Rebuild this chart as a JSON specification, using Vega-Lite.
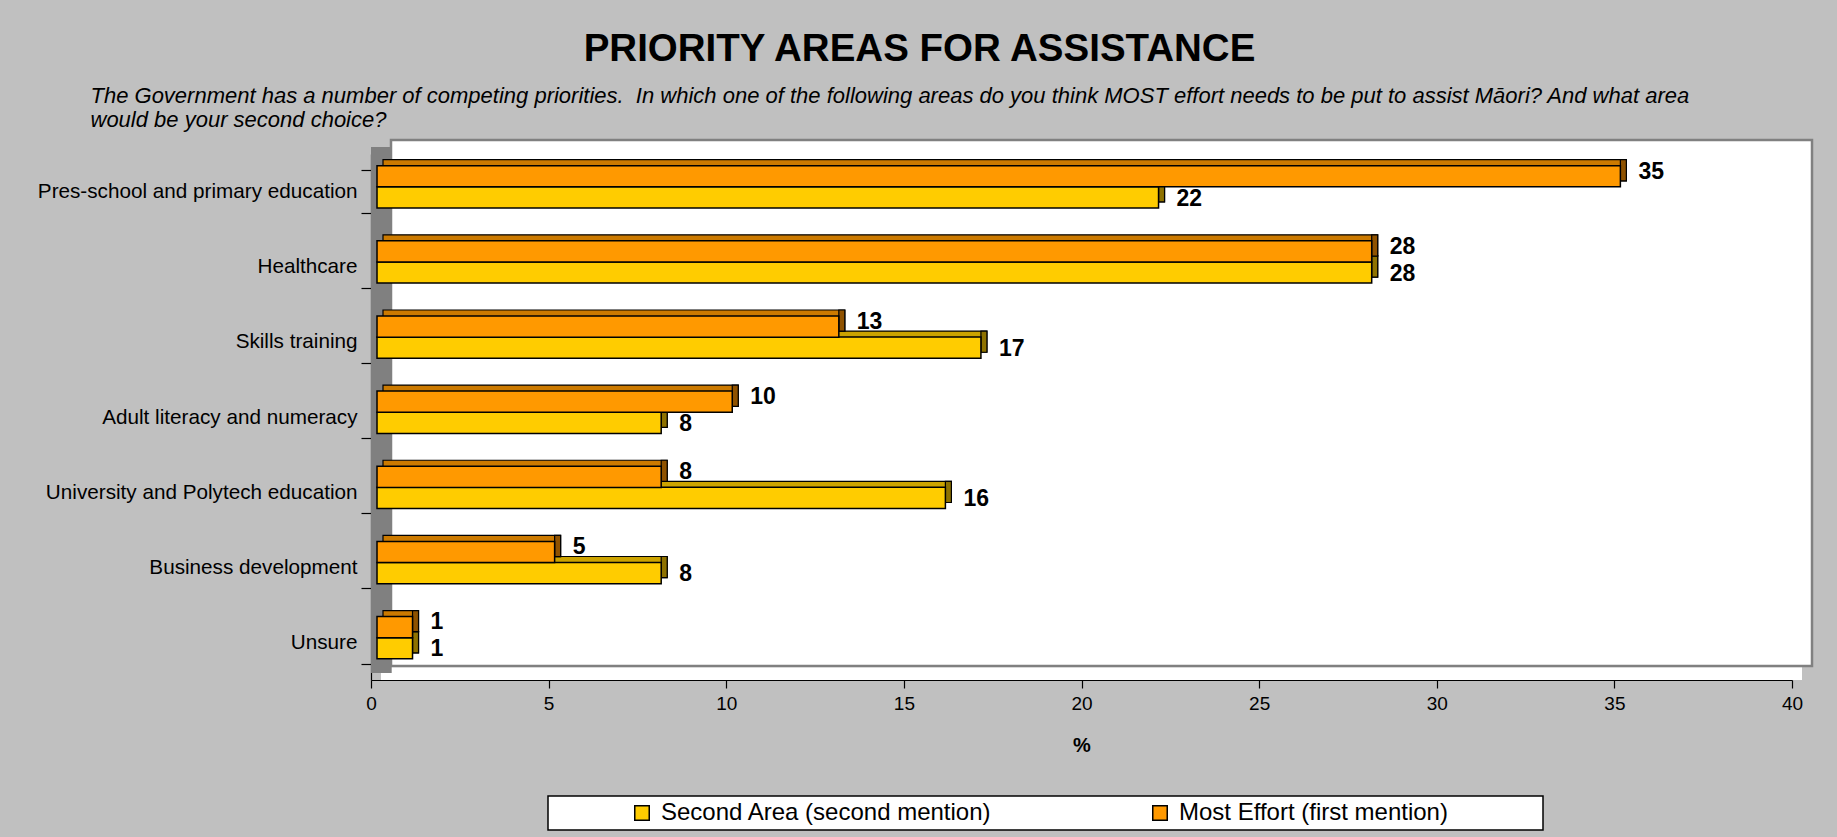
{
  "$schema": "https://vega.github.io/schema/vega-lite/v6.json",
  "autosize": "none",
  "width": 1421,
  "height": 526,
  "padding": {"left": 371, "top": 154, "right": 45, "bottom": 157},
  "background": "#C0C0C0",
  "title": {
    "text": "PRIORITY AREAS FOR ASSISTANCE",
    "anchor": "middle",
    "frame": "group",
    "dx": -162,
    "offset": 15,
    "fontSize": 38.5,
    "font": "Liberation Sans",
    "fontWeight": "bold",
    "color": "black"
  },
  "data": {
    "values": [
      {"area": "Pres-school and primary education", "mention": "Most Effort (first mention)", "pct": 35},
      {"area": "Pres-school and primary education", "mention": "Second Area (second mention)", "pct": 22},
      {"area": "Healthcare", "mention": "Most Effort (first mention)", "pct": 28},
      {"area": "Healthcare", "mention": "Second Area (second mention)", "pct": 28},
      {"area": "Skills training", "mention": "Most Effort (first mention)", "pct": 13},
      {"area": "Skills training", "mention": "Second Area (second mention)", "pct": 17},
      {"area": "Adult literacy and numeracy", "mention": "Most Effort (first mention)", "pct": 10},
      {"area": "Adult literacy and numeracy", "mention": "Second Area (second mention)", "pct": 8},
      {"area": "University and Polytech education", "mention": "Most Effort (first mention)", "pct": 8},
      {"area": "University and Polytech education", "mention": "Second Area (second mention)", "pct": 16},
      {"area": "Business development", "mention": "Most Effort (first mention)", "pct": 5},
      {"area": "Business development", "mention": "Second Area (second mention)", "pct": 8},
      {"area": "Unsure", "mention": "Most Effort (first mention)", "pct": 1},
      {"area": "Unsure", "mention": "Second Area (second mention)", "pct": 1}
    ]
  },
  "layer": [
    {
      "data": {"values": [{}]},
      "layer": [
        {
          "mark": {"type": "rect", "fill": "white", "stroke": "#808080", "strokeWidth": 2.5, "xOffset": 20, "x2Offset": 20, "yOffset": -14, "y2Offset": -14},
          "encoding": {
            "x": {"datum": 0, "type": "quantitative", "title": "%"},
            "x2": {"datum": 40},
            "y": {"datum": 0, "type": "quantitative", "scale": {"domain": [0, 1]}, "axis": null},
            "y2": {"datum": 1}
          }
        },
        {
          "mark": {"type": "rect", "fill": "white", "strokeWidth": 0, "xOffset": 10, "x2Offset": 10, "yOffset": 0, "y2Offset": -12.5},
          "encoding": {
            "x": {"datum": 0, "type": "quantitative", "title": "%"},
            "x2": {"datum": 40},
            "y": {"datum": 0, "type": "quantitative", "scale": {"domain": [0, 1]}, "axis": null},
            "y2": {"datum": 0}
          }
        },
        {
          "mark": {"type": "rect", "fill": "#808080", "strokeWidth": 0, "xOffset": 0, "x2Offset": 20.7, "yOffset": -7, "y2Offset": -7},
          "encoding": {
            "x": {"datum": 0, "type": "quantitative", "title": "%"},
            "x2": {"datum": 0},
            "y": {"datum": 0, "type": "quantitative", "scale": {"domain": [0, 1]}, "axis": null},
            "y2": {"datum": 1}
          }
        }
      ]
    },
    {
      "encoding": {
        "y": {
          "field": "area",
          "type": "nominal",
          "scale": {
            "domain": ["Pres-school and primary education", "Healthcare", "Skills training", "Adult literacy and numeracy", "University and Polytech education", "Business development", "Unsure"],
            "paddingInner": 0.437,
            "paddingOuter": 0.2185
          },
          "axis": {
            "title": ["The Government has a number of competing priorities.\u00a0 In which one of the following areas do you think MOST effort needs to be put to assist Māori? And what area", "would be your second choice?"],
            "titleX": -281,
            "titleY": -69,
            "titleAngle": 0,
            "titleAlign": "left",
            "titleBaseline": "top",
            "titleFontStyle": "italic",
            "titleFontWeight": "normal",
            "titleFontSize": 22,
            "titleLineHeight": 24.5,
            "titleFont": "Liberation Sans",
            "titleColor": "black"
          }
        },
        "x": {
          "field": "pct",
          "type": "quantitative",
          "stack": null,
          "title": "%",
          "scale": {"domain": [0, 40], "nice": false},
          "axis": {"values": [0, 5, 10, 15, 20, 25, 30, 35, 40], "title": "%"}
        }
      },
      "layer": [
        {
          "transform": [{"filter": "datum.mention == 'Second Area (second mention)'"}],
          "mark": {"type": "bar", "height": {"band": 0.5}, "fill": "#CCA300", "stroke": "black", "strokeWidth": 1.2, "xOffset": 12, "x2Offset": 12, "yOffset": -0.2},
          "encoding": {"x2": {"datum": 0}}
        },
        {
          "transform": [{"filter": "datum.mention == 'Second Area (second mention)'"}],
          "mark": {"type": "bar", "height": {"band": 0.5}, "fill": "#8F7200", "stroke": "black", "strokeWidth": 1.2, "xOffset": 6, "x2Offset": 12, "yOffset": -0.2},
          "encoding": {"x2": {"field": "pct"}}
        },
        {
          "transform": [{"filter": "datum.mention == 'Second Area (second mention)'"}],
          "mark": {"type": "bar", "height": {"band": 0.5}, "stroke": "black", "strokeWidth": 1.5, "opacity": 1, "xOffset": 6, "x2Offset": 6, "yOffset": 5.8},
          "encoding": {
            "x2": {"datum": 0},
            "color": {
              "field": "mention",
              "type": "nominal",
              "scale": {"domain": ["Second Area (second mention)", "Most Effort (first mention)"], "range": ["#FFCC00", "#FF9900"]},
              "legend": {
                "orient": "none",
                "legendX": 177,
                "legendY": 642,
                "direction": "horizontal",
                "title": "MMM",
                "titleColor": "white",
                "titleOrient": "left",
                "titleFontSize": 24,
                "titlePadding": 17,
                "fillColor": "white",
                "strokeColor": "black",
                "padding": 5,
                "symbolType": "square",
                "symbolSize": 210,
                "symbolStrokeColor": "black",
                "symbolStrokeWidth": 1.5,
                "labelFontSize": 24,
                "labelFont": "Liberation Sans",
                "labelColor": "black",
                "labelOffset": 7,
                "labelLimit": 800,
                "columnPadding": 156,
                "labelExpr": "datum.value == 'Most Effort (first mention)' ? datum.label + '\u2800\u2800\u2800\u2800\u2800' : datum.label"
              }
            }
          }
        },
        {
          "transform": [{"filter": "datum.mention == 'Most Effort (first mention)'"}],
          "mark": {"type": "bar", "height": {"band": 0.5}, "fill": "#CC7A00", "stroke": "black", "strokeWidth": 1.2, "xOffset": 12, "x2Offset": 12, "yOffset": -21.3},
          "encoding": {"x2": {"datum": 0}}
        },
        {
          "transform": [{"filter": "datum.mention == 'Most Effort (first mention)'"}],
          "mark": {"type": "bar", "height": {"band": 0.5}, "fill": "#8F5200", "stroke": "black", "strokeWidth": 1.2, "xOffset": 6, "x2Offset": 12, "yOffset": -21.3},
          "encoding": {"x2": {"field": "pct"}}
        },
        {
          "transform": [{"filter": "datum.mention == 'Most Effort (first mention)'"}],
          "mark": {"type": "bar", "height": {"band": 0.5}, "stroke": "black", "strokeWidth": 1.5, "opacity": 1, "xOffset": 6, "x2Offset": 6, "yOffset": -15.3},
          "encoding": {
            "x2": {"datum": 0},
            "color": {
              "field": "mention",
              "type": "nominal",
              "scale": {"domain": ["Second Area (second mention)", "Most Effort (first mention)"], "range": ["#FFCC00", "#FF9900"]},
              "legend": {
                "orient": "none",
                "legendX": 177,
                "legendY": 642,
                "direction": "horizontal",
                "title": "MMM",
                "titleColor": "white",
                "titleOrient": "left",
                "titleFontSize": 24,
                "titlePadding": 17,
                "fillColor": "white",
                "strokeColor": "black",
                "padding": 5,
                "symbolType": "square",
                "symbolSize": 210,
                "symbolStrokeColor": "black",
                "symbolStrokeWidth": 1.5,
                "labelFontSize": 24,
                "labelFont": "Liberation Sans",
                "labelColor": "black",
                "labelOffset": 7,
                "labelLimit": 800,
                "columnPadding": 156,
                "labelExpr": "datum.value == 'Most Effort (first mention)' ? datum.label + '\u2800\u2800\u2800\u2800\u2800' : datum.label"
              }
            }
          }
        },
        {
          "transform": [{"filter": "datum.mention == 'Most Effort (first mention)'"}],
          "mark": {"type": "text", "align": "left", "baseline": "middle", "font": "Liberation Sans", "fontWeight": "bold", "fontSize": 23, "color": "black", "xOffset": 24, "yOffset": -20},
          "encoding": {"text": {"field": "pct", "type": "quantitative"}}
        },
        {
          "transform": [{"filter": "datum.mention == 'Second Area (second mention)'"}],
          "mark": {"type": "text", "align": "left", "baseline": "middle", "font": "Liberation Sans", "fontWeight": "bold", "fontSize": 23, "color": "black", "xOffset": 24, "yOffset": 7},
          "encoding": {"text": {"field": "pct", "type": "quantitative"}}
        }
      ]
    }
  ],
  "resolve": {"scale": {"y": "independent"}},
  "config": {
    "font": "Liberation Sans",
    "view": {"stroke": null, "fill": null},
    "axis": {
      "zindex": 1,
      "grid": false,
      "domainColor": "black",
      "tickColor": "black",
      "labelColor": "black",
      "titleColor": "black",
      "labelFont": "Liberation Sans",
      "titleFont": "Liberation Sans",
      "domainWidth": 1.2,
      "tickWidth": 1.2
    },
    "axisY": {"tickSize": 10, "labelPadding": 4, "labelFontSize": 20.7, "labelLimit": 500, "tickBand": "extent"},
    "axisX": {"tickSize": 8, "labelPadding": 6, "labelFontSize": 19, "titleFontSize": 20, "titleFontWeight": "bold", "titlePadding": 22, "labelFlush": false},
    "legend": {"strokeWidth": 1.5}
  }
}
